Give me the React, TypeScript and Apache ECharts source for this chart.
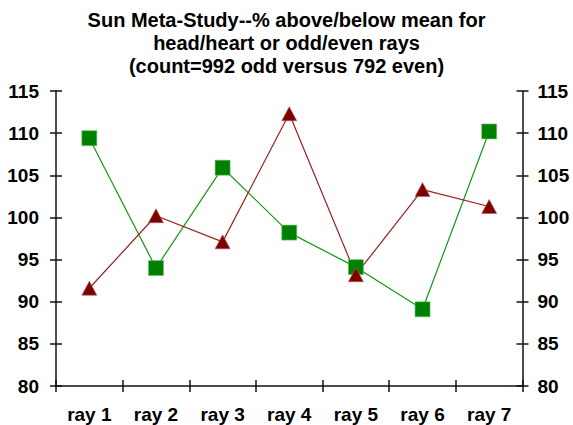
import React, { useEffect, useRef } from "react";
import * as echarts from "echarts";

const categories = ["ray 1", "ray 2", "ray 3", "ray 4", "ray 5", "ray 6", "ray 7"];
const greenValues = [109.4, 94.0, 105.9, 98.2, 94.1, 89.1, 110.2];
const redValues = [91.6, 100.2, 97.1, 112.3, 93.2, 103.3, 101.3];
const titleLines = [
  "Sun Meta-Study--% above/below mean for",
  "head/heart or odd/even rays",
  "(count=992 odd versus 792 even)",
];
const yMin = 80;
const yMax = 115;
const yStep = 5;

const FONT = "'Liberation Sans', Arial, Helvetica, sans-serif";

export default function App() {
  const ref = useRef<HTMLDivElement>(null);

  useEffect(() => {
    document.body.style.margin = "0";
    if (!ref.current) return;
    const chart = echarts.init(ref.current, null, { renderer: "svg" });

    const axisLine = { show: true, lineStyle: { color: "#111", width: 1.5 } };
    const tickStyle = { color: "#111", width: 1.5 };
    const labelStyle = {
      color: "#000",
      fontFamily: FONT,
      fontWeight: "bold" as const,
      fontSize: 19,
    };

    const yBase = {
      type: "value" as const,
      min: yMin,
      max: yMax,
      interval: yStep,
      splitLine: { show: false },
    };

    chart.setOption({
      animation: false,
      backgroundColor: "#fff",
      title: {
        text: titleLines.join("\n"),
        left: "center",
        top: 8,
        padding: [0, 0, 0, 5],
        textStyle: {
          fontFamily: FONT,
          fontWeight: "bold",
          fontSize: 20,
          lineHeight: 23,
          color: "#000",
          align: "center",
        },
      },
      grid: { left: 56, right: 50.5, top: 91, bottom: 39, containLabel: false },
      xAxis: [
        {
          type: "category",
          data: categories,
          position: "bottom",
          boundaryGap: true,
          axisLine,
          axisTick: { show: true, inside: false, length: 6, lineStyle: tickStyle },
          axisLabel: { ...labelStyle, margin: 19 },
          splitLine: { show: false },
        },
        {
          type: "category",
          data: categories,
          position: "bottom",
          boundaryGap: true,
          axisLine: { show: false },
          axisTick: { show: true, inside: true, length: 6, lineStyle: tickStyle },
          axisLabel: { show: false },
          splitLine: { show: false },
        },
      ],
      yAxis: [
        {
          ...yBase,
          position: "left",
          axisLine,
          axisTick: { show: true, inside: false, length: 6, lineStyle: tickStyle },
          axisLabel: { ...labelStyle, margin: 17 },
        },
        {
          ...yBase,
          position: "right",
          axisLine,
          axisTick: { show: true, inside: false, length: 6, lineStyle: tickStyle },
          axisLabel: { ...labelStyle, margin: 15 },
        },
        {
          ...yBase,
          position: "left",
          axisLine: { show: false },
          axisTick: { show: true, inside: true, length: 6, lineStyle: tickStyle },
          axisLabel: { show: false },
        },
        {
          ...yBase,
          position: "right",
          axisLine: { show: false },
          axisTick: { show: true, inside: true, length: 6, lineStyle: tickStyle },
          axisLabel: { show: false },
        },
      ],
      series: [
        {
          name: "green",
          type: "line",
          data: greenValues,
          xAxisIndex: 0,
          yAxisIndex: 0,
          symbol: "rect",
          symbolSize: 15,
          lineStyle: { color: "#109a10", width: 1.2 },
          itemStyle: { color: "#008000", borderColor: "#6fbf6f", borderWidth: 0.6 },
        },
        {
          name: "red",
          type: "line",
          data: redValues,
          xAxisIndex: 0,
          yAxisIndex: 0,
          symbol: "triangle",
          symbolSize: [15, 14],
          lineStyle: { color: "#982020", width: 1.2 },
          itemStyle: { color: "#800000", borderColor: "#b06060", borderWidth: 0.6 },
        },
      ],
    });

    return () => {
      chart.dispose();
    };
  }, []);

  return <div ref={ref} style={{ width: 573, height: 425 }} />;
}
